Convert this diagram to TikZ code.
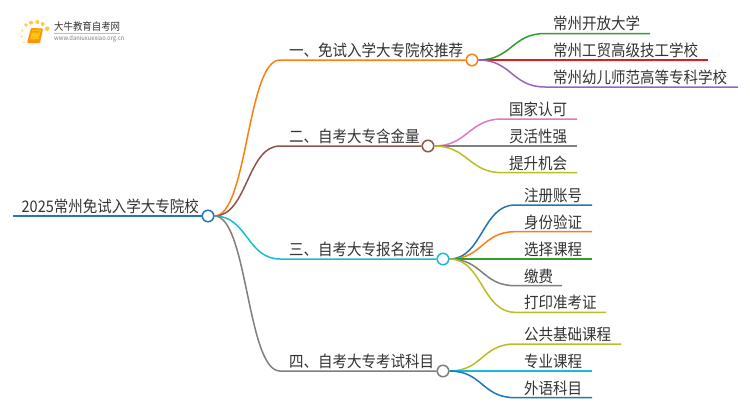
\documentclass[tikz,border=0pt]{standalone}
\usepackage{fontspec}
\setmainfont[FakeStretch=0.906]{Noto Sans CJK SC}
\definecolor{cblue}{HTML}{1F77B4}
\definecolor{corange}{HTML}{FF7F0E}
\definecolor{cgreen}{HTML}{2CA02C}
\definecolor{cred}{HTML}{E41A1C}
\definecolor{cpurple}{HTML}{9467BD}
\definecolor{cbrown}{HTML}{8C564B}
\definecolor{cpink}{HTML}{E377C2}
\definecolor{cgray}{HTML}{7F7F7F}
\definecolor{colive}{HTML}{BCBD22}
\definecolor{ccyan}{HTML}{17BECF}
\definecolor{ctext}{HTML}{333333}
\tikzset{
  hub/.style={circle,draw=#1,fill=white,line width=1.5pt,inner sep=0pt,minimum size=11.5pt},
  wire/.style={draw=#1,line width=1.5pt},
  txt/.style={anchor=base west,yshift=1pt,text=ctext,inner sep=0pt,font=\fontsize{16}{18}\selectfont},
}
\begin{document}
\begin{tikzpicture}[x=1pt,y=-1pt]
\useasboundingbox (0,0) rectangle (750,410);
\fill[white] (0,0) rectangle (750,410);
% logo
\fill[corange!55!yellow,opacity=.75] (26,25) circle (1.8) (31,22.7) circle (2) (37.3,22) circle (2) (42.7,24) circle (2) (47.3,28.7) circle (2.3);
\fill[corange!55!yellow,opacity=.45] (22.3,30.7) circle (1.3) (21.7,36.7) circle (1.3) (24,42.3) circle (1);
\fill[corange!85!yellow,rounded corners=1pt] (31,28) -- (43,28.5) -- (40,43) -- (27,43) -- cycle;
\fill[yellow!60!orange,rounded corners=.5pt] (32.5,29.5) -- (41,30) -- (38.5,39) -- (30,39.5) -- cycle;
\fill[corange!85!yellow] (32.5,31) -- (39.5,31) -- (39.2,32.5) -- (32.2,32.5) -- cycle;
\node[anchor=west,inner sep=0pt,text=ctext,font=\fontsize{10.4}{12}\selectfont] (logoname) at (54,27) {大牛教育自考网};
\draw[black!25,line width=.5pt] (54,33.3) -- (120,33.3);
\node[anchor=west,inner sep=0pt,text=cgray,font=\fontsize{6.4}{7}\selectfont] (logourl) at (54,38.7) {www.daniuxuexiao.org.cn};
% root
\coordinate (rootb) at (13,216);
\node[hub=cblue] (root) at (208,216) {};
\draw[wire=cblue,line width=2pt] (rootb) -- (root);
\node[txt] (roott) at (21.5,213.3) {2025常州免试入学大专院校};
% main branches
\node[hub=corange] (one) at (472,60) {};
\node[hub=cbrown] (two) at (428,146) {};
\node[hub=ccyan] (three) at (443,259) {};
\node[hub=cgray] (four) at (443,371) {};
\coordinate (oneb) at (280,60);
\coordinate (twob) at (280,146);
\coordinate (threeb) at (280,259);
\coordinate (fourb) at (280,371);
\draw[wire=corange] (root.east) .. controls +(33,0) and +(-33,0) .. (oneb) -- (one);
\draw[wire=cbrown] (root.east) .. controls +(33,0) and +(-33,0) .. (twob) -- (two);
\draw[wire=ccyan] (root.east) .. controls +(33,0) and +(-33,0) .. (threeb) -- (three);
\draw[wire=cgray] (root.east) .. controls +(33,0) and +(-33,0) .. (fourb) -- (four);
\node[txt] (onet) at (289,57.3) {一、免试入学大专院校推荐};
\node[txt] (twot) at (289,143.3) {二、自考大专含金量};
\node[txt] (threet) at (289,256.3) {三、自考大专报名流程};
\node[txt] (fourt) at (289,368.3) {四、自考大专考试科目};
% leaves of one
\coordinate (aa) at (545,33.5); \coordinate (aae) at (650,33.5);
\coordinate (ab) at (545,60); \coordinate (abe) at (708,60);
\coordinate (ac) at (545,87); \coordinate (ace) at (738,87);
\draw[wire=cgreen] (one.east) .. controls +(33,0) and +(-33,0) .. (aa) -- (aae);
\draw[wire=cred] (one.east) -- (abe);
\draw[wire=cpurple] (one.east) .. controls +(33,0) and +(-33,0) .. (ac) -- (ace);
\node[txt] (aat) at (553,30.8) {常州开放大学};
\node[txt] (abt) at (553,57.3) {常州工贸高级技工学校};
\node[txt] (act) at (553,84.3) {常州幼儿师范高等专科学校};
% leaves of two
\coordinate (ba) at (502,119); \coordinate (bae) at (577,119);
\coordinate (bb) at (502,146); \coordinate (bbe) at (577,146);
\coordinate (bc) at (502,172.7); \coordinate (bce) at (577,172.7);
\draw[wire=cpink] (two.east) .. controls +(33,0) and +(-33,0) .. (ba) -- (bae);
\draw[wire=cgray] (two.east) -- (bbe);
\draw[wire=colive] (two.east) .. controls +(33,0) and +(-33,0) .. (bc) -- (bce);
\node[txt] (bat) at (509,116.3) {国家认可};
\node[txt] (bbt) at (509,143.3) {灵活性强};
\node[txt] (bct) at (509,170) {提升机会};
% leaves of three
\coordinate (ca) at (515,205); \coordinate (cae) at (592,205);
\coordinate (cb) at (515,231.7); \coordinate (cbe) at (592,231.7);
\coordinate (cc) at (515,259); \coordinate (cce) at (592,259);
\coordinate (cd) at (515,285.7); \coordinate (cde) at (562,285.7);
\coordinate (cf) at (515,312.3); \coordinate (cfe) at (606,312.3);
\draw[wire=cblue] (three.east) .. controls +(33,0) and +(-33,0) .. (ca) -- (cae);
\draw[wire=corange] (three.east) .. controls +(33,0) and +(-33,0) .. (cb) -- (cbe);
\draw[wire=cgreen] (three.east) -- (cce);
\draw[wire=cgray] (three.east) .. controls +(33,0) and +(-33,0) .. (cd) -- (cde);
\draw[wire=colive] (three.east) .. controls +(33,0) and +(-33,0) .. (cf) -- (cfe);
\node[txt] (cat) at (524,202.3) {注册账号};
\node[txt] (cbt) at (524,229) {身份验证};
\node[txt] (cct) at (524,256.3) {选择课程};
\node[txt] (cdt) at (524,283) {缴费};
\node[txt] (cft) at (524,309.6) {打印准考证};
% leaves of four
\coordinate (da) at (515,344); \coordinate (dae) at (621,344);
\coordinate (db) at (515,371); \coordinate (dbe) at (592,371);
\coordinate (dc) at (515,397.7); \coordinate (dce) at (592,397.7);
\draw[wire=colive] (four.east) .. controls +(33,0) and +(-33,0) .. (da) -- (dae);
\draw[wire=ccyan] (four.east) -- (dbe);
\draw[wire=cblue] (four.east) .. controls +(33,0) and +(-33,0) .. (dc) -- (dce);
\node[txt] (dat) at (524,341.3) {公共基础课程};
\node[txt] (dbt) at (524,368.3) {专业课程};
\node[txt] (dct) at (524,395) {外语科目};
\end{tikzpicture}
\end{document}
